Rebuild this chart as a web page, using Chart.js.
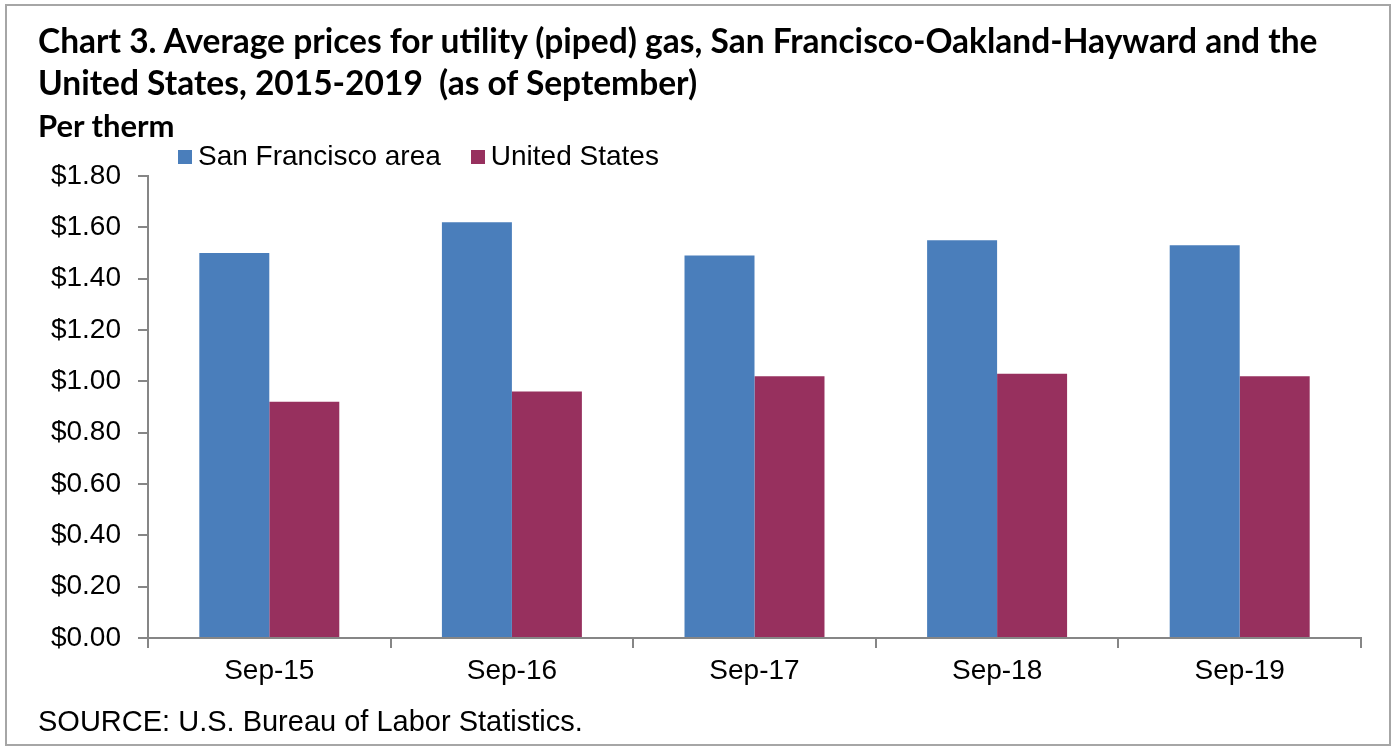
<!DOCTYPE html>
<html>
<head>
<meta charset="utf-8">
<script src="https://cdn.jsdelivr.net/npm/chart.js@4/dist/chart.umd.min.js"></script>
<style>
  html, body { margin: 0; padding: 0; background: #fff; }
  #wrap { position: relative; width: 1395px; height: 746px; overflow: hidden; }
  #frame { position: absolute; left: 5px; top: 4px; width: 1382px; height: 738px; border: 2px solid #a6a6a6; }
  #title { position: absolute; left: 38px; top: 19px; font: bold 33.5px Lato, "Open Sans", sans-serif; line-height: 42px; color: #000; white-space: nowrap; }
  #unit { position: absolute; left: 38px; top: 105px; font: bold 31px Lato, "Open Sans", sans-serif; line-height: 40px; color: #000; white-space: nowrap; }
  #legend { position: absolute; left: 178px; top: 140px; font: 28px "Liberation Sans", Arial, sans-serif; line-height: 32px; color: #000; white-space: nowrap; }
  #legend span.sw { display: inline-block; width: 14px; height: 14px; margin-right: 6px; vertical-align: 1px; }
  #legend span.item { margin-right: 30px; }
  #source { position: absolute; left: 38px; top: 705px; font: 29px "Liberation Sans", Arial, sans-serif; line-height: 33px; color: #000; white-space: nowrap; }
  canvas { position: absolute; left: 0; top: 0; }
</style>
</head>
<body>
<div id="wrap">
  <div id="frame"></div>
  <canvas id="chart" width="1395" height="746"></canvas>
  <div id="title">Chart 3. Average prices for utility (piped) gas, San Francisco-Oakland-Hayward and the<br>United States, 2015-2019&nbsp; (as of September)</div>
  <div id="unit">Per therm</div>
  <div id="legend"></div>
  <div id="source">SOURCE: U.S. Bureau of Labor Statistics.</div>
</div>
<script>
const categories = ['Sep-15', 'Sep-16', 'Sep-17', 'Sep-18', 'Sep-19'];
const sfArea = [1.50, 1.62, 1.49, 1.55, 1.53];
const unitedStates = [0.92, 0.96, 1.02, 1.03, 1.02];
const seriesNames = ['San Francisco area', 'United States'];
const seriesColors = ['#4a7ebb', '#97305e'];

const axisColor = '#868686';
const tickFont = { family: '"Liberation Sans", Arial, sans-serif', size: 28 };

const ctx = document.getElementById('chart');

var myChart = new Chart(ctx, {
  type: 'bar',
  data: {
    labels: categories,
    datasets: [{
      label: seriesNames[0],
      data: sfArea,
      backgroundColor: seriesColors[0],
      barPercentage: 1,
      categoryPercentage: 0.577
    }, {
      label: seriesNames[1],
      data: unitedStates,
      backgroundColor: seriesColors[1],
      barPercentage: 1,
      categoryPercentage: 0.577
    }]
  },
  options: {
    responsive: false,
    animation: false,
    layout: {
      padding: { left: 0, top: 176, right: 34, bottom: 48 }
    },
    plugins: {
      legend: { display: false },
      tooltip: { enabled: false }
    },
    scales: {
      x: {
        grid: { display: true, drawOnChartArea: false, tickLength: 10, color: axisColor, lineWidth: 2 },
        border: { display: true, color: axisColor, width: 2 },
        ticks: { color: '#000', font: tickFont, padding: 6 },
        afterFit: function (scale) { scale.height = 60; }
      },
      y: {
        min: 0,
        max: 1.8,
        grid: { display: true, drawOnChartArea: false, tickLength: 10, color: axisColor, lineWidth: 2 },
        border: { display: true, color: axisColor, width: 2 },
        ticks: {
          stepSize: 0.2,
          color: '#000',
          font: tickFont,
          padding: 17,
          callback: function (v) { return '$' + Number(v).toFixed(2); }
        },
        afterFit: function (scale) { scale.width = 148; }
      }
    }
  }
});

// legend built from the datasets
const legend = document.getElementById('legend');
myChart.data.datasets.forEach(function (ds) {
  const item = document.createElement('span');
  item.className = 'item';
  const sw = document.createElement('span');
  sw.className = 'sw';
  sw.style.background = ds.backgroundColor;
  item.appendChild(sw);
  item.appendChild(document.createTextNode(ds.label));
  legend.appendChild(item);
});
</script>
</body>
</html>
